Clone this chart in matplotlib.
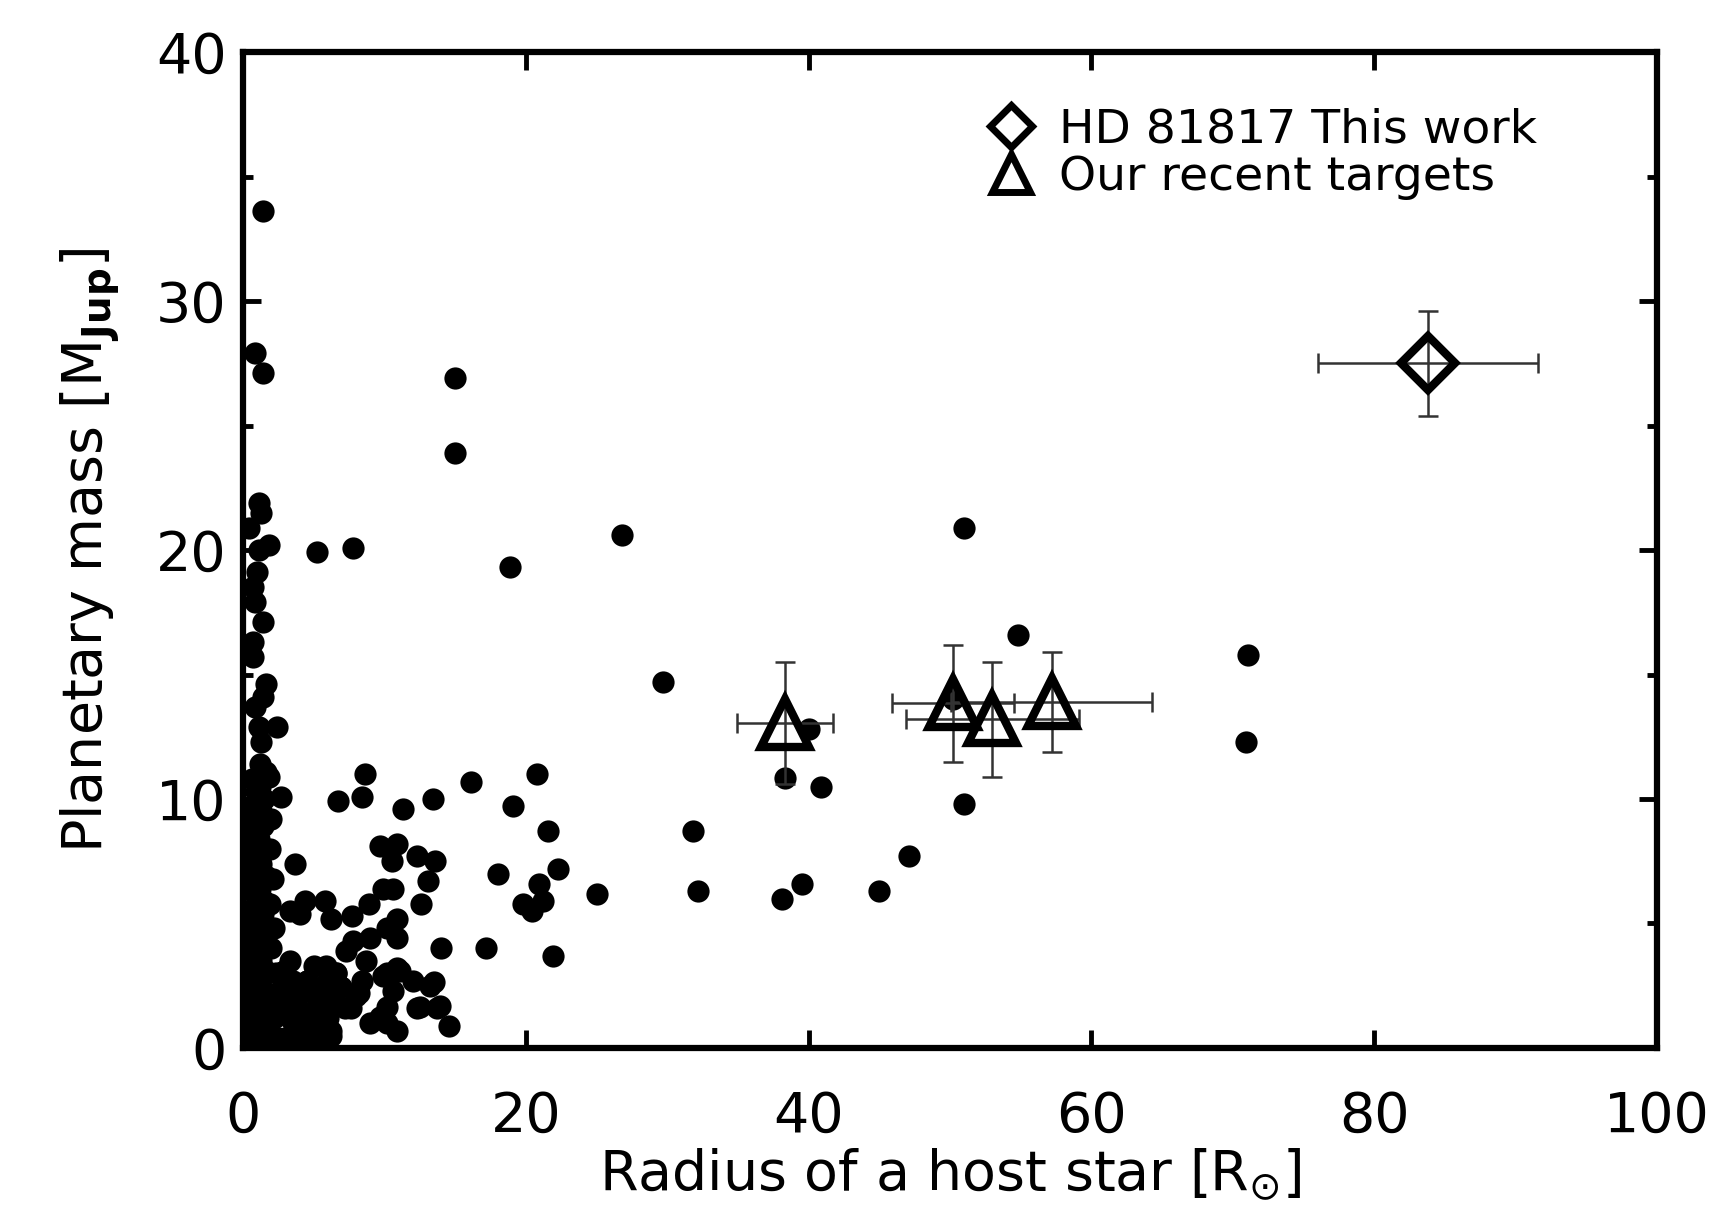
import matplotlib
matplotlib.use('Agg')
import matplotlib.pyplot as plt
from matplotlib.lines import Line2D
from matplotlib.ticker import MultipleLocator

plt.rcParams['font.family'] = ['DejaVu Sans']
plt.rcParams['xtick.direction'] = 'in'
plt.rcParams['ytick.direction'] = 'in'

# main-sequence hosts (the solid column near R ~ 1)
ms_r = [0.5, 1.5, 0.8, 1.3, 0.6, 1.6, 0.9, 1.2, 0.5, 1.7, 0.7, 1.4, 0.6, 1.5, 0.9, 1.2, 0.5,
        1.6, 0.8, 1.3, 0.6, 1.5, 0.9, 1.1, 0.5, 1.7, 0.7, 1.4, 0.6, 1.5, 0.9, 1.2, 0.5, 1.6,
        0.8, 1.3, 0.6, 1.5, 0.9, 1.1, 0.5, 1.4, 0.7, 1.3, 0.6, 1.5, 0.9, 1.2, 0.6, 1.6,
        2.0, 1.9, 2.1, 1.9, 2.2, 2.0, 2.3, 2.4, 2.2, 2.5]
ms_m = [0.1, 0.2, 0.4, 0.5, 0.7, 0.9, 1.0, 1.2, 1.4, 1.5, 1.7, 1.9, 2.1, 2.3, 2.5, 2.7, 2.9,
        3.1, 3.3, 3.5, 3.8, 4.0, 4.2, 4.4, 4.7, 4.9, 5.1, 5.4, 5.6, 5.9, 6.1, 6.4, 6.6, 6.9,
        7.1, 7.4, 7.7, 7.9, 8.2, 8.4, 8.7, 8.9, 9.2, 9.5, 9.7, 10.0, 10.3, 10.5, 10.8, 11.1,
        9.2, 8.0, 6.8, 5.8, 4.8, 4.0, 3.0, 2.2, 1.2, 0.4]

# small giants, bottom-left cluster
cl_r = [2.9, 3.3, 2.6, 3.0, 3.6, 4.2, 4.0, 4.3, 4.8, 5.4, 4.5, 5.2, 5.7, 6.4, 6.2, 6.9, 3.3,
        3.8, 4.6, 5.0, 5.5, 6.0, 6.6, 5.9, 3.5, 4.1, 4.9, 5.3, 2.8]
cl_m = [3.1, 2.05, 1.4, 0.4, 0.8, 0.3, 0.6, 1.25, 0.5, 0.3, 2.7, 2.05, 1.4, 1.9, 0.7, 2.45, 1.2,
        1.7, 1.1, 1.5, 0.9, 1.2, 3.0, 2.6, 2.7, 2.2, 0.15, 0.9, 2.4]

# scattered known planets
sc_r = [1.4, 0.85, 1.4, 15.0, 15.0, 1.1, 1.3, 0.4, 1.8, 1.1, 5.2, 7.8, 18.9, 26.8, 1.0, 0.7,
        0.85, 1.4, 0.7, 0.7, 1.6, 1.4, 0.85, 29.7, 51.0, 54.8, 71.1, 70.9, 2.4, 1.1, 1.3, 1.2,
        1.8, 50.2, 40.0, 38.3, 40.9, 51.0, 31.8, 32.2, 25.0, 38.1, 39.5, 45.0, 47.1,
        8.6, 8.4, 6.7, 11.3, 13.4, 16.1, 20.8, 19.1, 21.6, 22.3, 18.0, 20.9, 19.8, 21.2, 20.4,
        21.9, 17.2, 14.0, 14.6, 13.7, 13.2, 12.3, 10.9, 9.9, 10.6, 9.0, 10.2, 10.9, 8.7, 8.4,
        8.0, 7.2, 6.2, 7.3, 7.8, 9.0, 10.2, 10.9, 10.9, 10.6, 9.9, 12.6, 13.1, 13.6, 12.3,
        10.5, 10.9, 9.7, 8.9, 7.7, 6.2, 5.8, 4.4, 3.3, 4.0, 3.7, 3.3, 5.0, 5.9, 2.7,
        12.0, 13.5, 13.9, 12.5, 10.2, 9.7, 8.2, 7.6, 6.9, 11.1, 10.2, 6.6, 6.4, 5.7, 5.2,
        4.5, 4.3, 4.0, 3.3, 2.9, 2.6]
sc_m = [33.6, 27.9, 27.1, 26.9, 23.9, 21.9, 21.5, 20.9, 20.2, 20.0, 19.9, 20.1, 19.3, 20.6,
        19.1, 18.5, 17.9, 17.1, 16.3, 15.7, 14.6, 14.1, 13.7, 14.7, 20.9, 16.6, 15.8, 12.3,
        12.9, 12.9, 12.3, 11.4, 10.9, 14.0, 12.8, 10.85, 10.5, 9.8, 8.7, 6.3, 6.2, 6.0, 6.6,
        6.3, 7.7,
        11.0, 10.1, 9.9, 9.6, 10.0, 10.7, 11.0, 9.7, 8.7, 7.2, 7.0, 6.6, 5.8, 5.9, 5.5,
        3.7, 4.0, 4.0, 0.9, 1.6, 2.5, 1.6, 3.2, 2.9, 2.3, 1.0, 1.0, 0.7, 3.5, 2.7,
        2.1, 1.6, 0.5, 3.9, 4.3, 4.4, 4.8, 5.2, 4.4, 6.4, 6.4, 5.8, 6.7, 7.5, 7.7,
        7.5, 8.2, 8.1, 5.8, 5.3, 5.2, 5.9, 5.9, 5.5, 5.4, 7.4, 3.5, 3.3, 3.3, 10.1,
        2.7, 2.65, 1.7, 1.65, 1.65, 1.25, 2.2, 1.6, 2.45, 3.1, 3.0, 3.0, 1.9, 1.4, 2.05,
        2.7, 1.25, 0.6, 2.05, 3.1, 1.4]

# our recent targets
tri_r = [38.3, 50.2, 53.0, 57.2]
tri_m = [13.05, 13.85, 13.2, 13.9]
tri_rerr = [3.4, 4.3, 6.1, 7.1]
tri_merr = [2.45, 2.35, 2.3, 2.0]

# HD 81817
hd_r = [83.8]
hd_m = [27.5]
hd_rerr = [7.8]
hd_merr = [2.1]

fig = plt.figure(figsize=(17.3, 12.24), dpi=100)
ax = fig.add_axes([0.1405, 0.1438, 0.8173, 0.8137])

for r, m in [(ms_r, ms_m), (cl_r, cl_m), (sc_r, sc_m)]:
    ax.plot(r, m, 'o', color='black', ms=16, mec='none', zorder=2)

ax.errorbar(tri_r, tri_m, xerr=tri_rerr, yerr=tri_merr, fmt='none', ecolor='#333333',
            elinewidth=1.8, capsize=7, capthick=1.8, zorder=3)
ax.errorbar(hd_r, hd_m, xerr=hd_rerr, yerr=hd_merr, fmt='none', ecolor='#333333',
            elinewidth=1.8, capsize=7, capthick=1.8, zorder=3)
ax.plot(tri_r, tri_m, '^', ms=34, mfc='none', mec='black', mew=6, zorder=4)
ax.plot(hd_r, hd_m, 'D', ms=27, mfc='none', mec='black', mew=6, zorder=4)

ax.set_xlim(0, 100)
ax.set_ylim(0, 40)
ax.xaxis.set_major_locator(MultipleLocator(20))
ax.yaxis.set_major_locator(MultipleLocator(10))
ax.yaxis.set_minor_locator(MultipleLocator(5))
ax.tick_params(axis='both', which='major', length=13, width=3.5, top=True, right=True,
               labelsize=40)
ax.tick_params(axis='y', which='minor', length=7, width=3.5, right=True)
ax.tick_params(axis='x', which='major', pad=30)
ax.tick_params(axis='y', which='major', pad=12)
for s in ax.spines.values():
    s.set_linewidth(4.5)

ax.set_xlabel(r'Radius of a host star [R$_{\odot}$]', fontsize=40, labelpad=2)
ax.set_ylabel(r'Planetary mass [M$_{\mathbf{Jup}}$]', fontsize=40, labelpad=25)

handles = [Line2D([], [], ls='none', marker='D', ms=21, mfc='none', mec='black', mew=5),
           Line2D([], [], ls='none', marker='^', ms=27, mfc='none', mec='black', mew=5)]
ax.legend(handles, ['HD 81817 This work', 'Our recent targets'], loc='upper left',
          bbox_to_anchor=(0.51, 0.968), frameon=False, fontsize=34, handlelength=1.0,
          handletextpad=0.5, labelspacing=0.05, borderpad=0)

fig.savefig('out.png', dpi=100)
